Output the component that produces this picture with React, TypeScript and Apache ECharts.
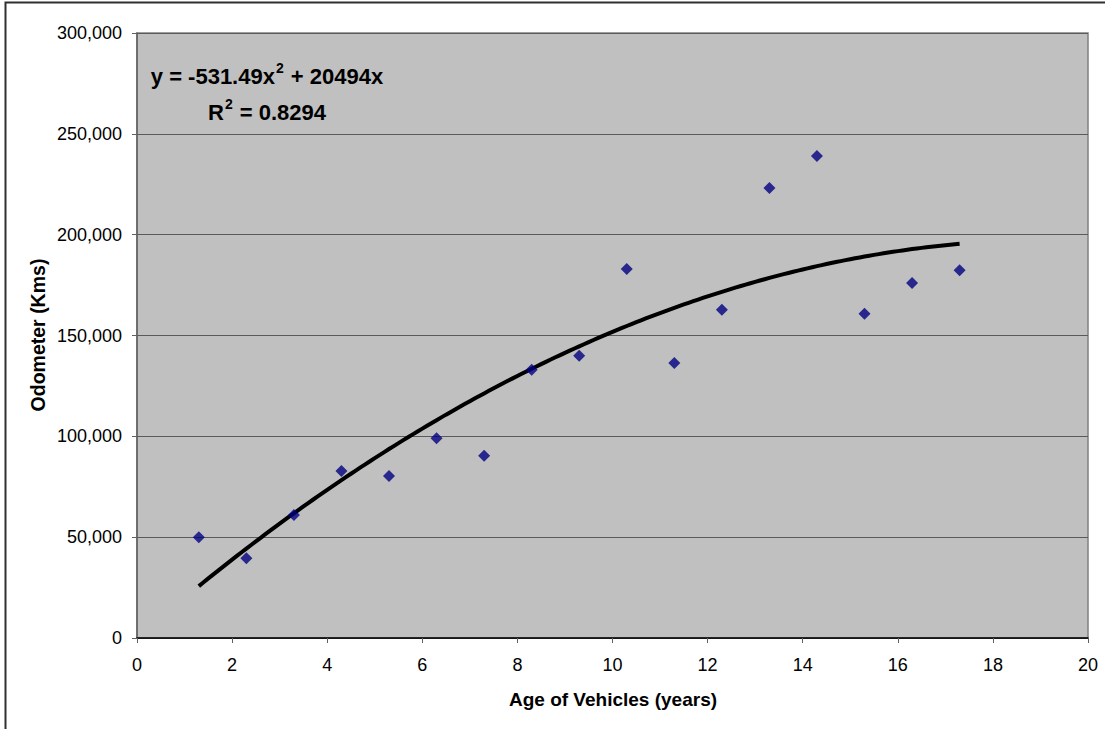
import React, { useEffect, useRef } from "react";
import * as echarts from "echarts";

// Scatter data: age of vehicle (years) vs odometer reading (km)
const AGES = [1.3, 2.3, 3.3, 4.3, 5.3, 6.3, 7.3, 8.3, 9.3, 10.3, 11.3, 12.3, 13.3, 14.3, 15.3, 16.3, 17.3];
const ODOMETER = [50000, 39500, 61000, 82800, 80300, 99000, 90400, 133000, 140000, 183000, 136400, 162800, 223100, 239000, 160800, 176000, 182300];

// Trendline coefficients as printed on the chart: y = A x^2 + B x
const TREND_A = -531.49;
const TREND_B = 20494;
const TREND_X_START = 1.3;
const TREND_X_END = 17.3;
const TREND_STEP = 0.1;

const EQUATION_LINE = "y = -531.49x";
const EQUATION_TAIL = " + 20494x";
const R2_VALUE = " = 0.8294";

const X_TITLE = "Age of Vehicles (years)";
const Y_TITLE = "Odometer (Kms)";

const FONT = "'Liberation Sans', Arial, sans-serif";

export default function App() {
  const ref = useRef<HTMLDivElement>(null);

  useEffect(() => {
    if (!ref.current) return;
    const chart = echarts.init(ref.current, undefined, { renderer: "svg" });

    const scatter = AGES.map((a, i) => [a, ODOMETER[i]]);
    const trend: number[][] = [];
    const n = Math.round((TREND_X_END - TREND_X_START) / TREND_STEP);
    for (let i = 0; i <= n; i++) {
      const x = TREND_X_START + i * TREND_STEP;
      trend.push([x, TREND_A * x * x + TREND_B * x]);
    }

    chart.setOption({
      animation: false,
      backgroundColor: "#ffffff",
      textStyle: { fontFamily: FONT },
      grid: {
        left: 137,
        top: 33,
        right: 17,
        bottom: 91,
        show: true,
        backgroundColor: "#C0C0C0",
        borderColor: "#808080",
        borderWidth: 1.5,
      },
      xAxis: {
        type: "value",
        min: 0,
        max: 20,
        interval: 2,
        axisLine: { show: true, onZero: false, lineStyle: { color: "#000000", width: 1.5 } },
        axisTick: { show: true, inside: false, length: 5, lineStyle: { color: "#606060" } },
        axisLabel: { color: "#000000", fontSize: 18, fontFamily: FONT, margin: 18 },
        splitLine: { show: false },
      },
      yAxis: {
        type: "value",
        min: 0,
        max: 300000,
        interval: 50000,
        axisLine: { show: true, lineStyle: { color: "#606060", width: 1.5 } },
        axisTick: { show: true, inside: false, length: 5, lineStyle: { color: "#606060" } },
        axisLabel: {
          color: "#000000",
          fontSize: 18,
          fontFamily: FONT,
          margin: 15,
          formatter: (v: number) => v.toLocaleString("en-US"),
        },
        splitLine: { show: true, lineStyle: { color: "#5a5a5a", width: 1 } },
      },
      series: [
        {
          type: "line",
          data: trend,
          showSymbol: false,
          symbol: "none",
          lineStyle: { color: "#000000", width: 4 },
          z: 2,
        },
        {
          type: "scatter",
          data: scatter,
          symbol: "diamond",
          symbolSize: 12,
          itemStyle: { color: "#000080" },
          z: 3,
        },
      ],
      graphic: [
        {
          type: "rect",
          silent: true,
          z: 100,
          shape: { x: 5.5, y: 2.5, width: 1300, height: 900 },
          style: { fill: "none", stroke: "#303030", lineWidth: 2 },
        },
        {
          type: "text",
          x: 267,
          y: 58,
          z: 100,
          style: {
            text:
              "{b|" + EQUATION_LINE + "}{s|2}{b|" + EQUATION_TAIL + "}\n{b|R}{s|2}{b|" + R2_VALUE + "}",
            align: "center",
            verticalAlign: "top",
            rich: {
              b: { fontSize: 22, fontWeight: "bold", fontFamily: FONT, lineHeight: 36, fill: "#000" },
              s: {
                fontSize: 14,
                fontWeight: "bold",
                fontFamily: FONT,
                fill: "#000",
                padding: [0, 1, 17, 1],
              },
            },
          },
        },
        {
          type: "text",
          x: 613,
          y: 699,
          z: 100,
          style: {
            text: X_TITLE,
            font: "bold 19px " + FONT,
            align: "center",
            verticalAlign: "middle",
            fill: "#000",
          },
        },
        {
          type: "text",
          x: 38,
          y: 335,
          rotation: Math.PI / 2,
          z: 100,
          style: {
            text: Y_TITLE,
            font: "bold 19.5px " + FONT,
            align: "center",
            verticalAlign: "middle",
            fill: "#000",
          },
        },
      ],
    });

    return () => chart.dispose();
  }, []);

  return (
    <div
      ref={ref}
      style={{ position: "absolute", left: 0, top: 0, width: 1105, height: 729 }}
    />
  );
}
